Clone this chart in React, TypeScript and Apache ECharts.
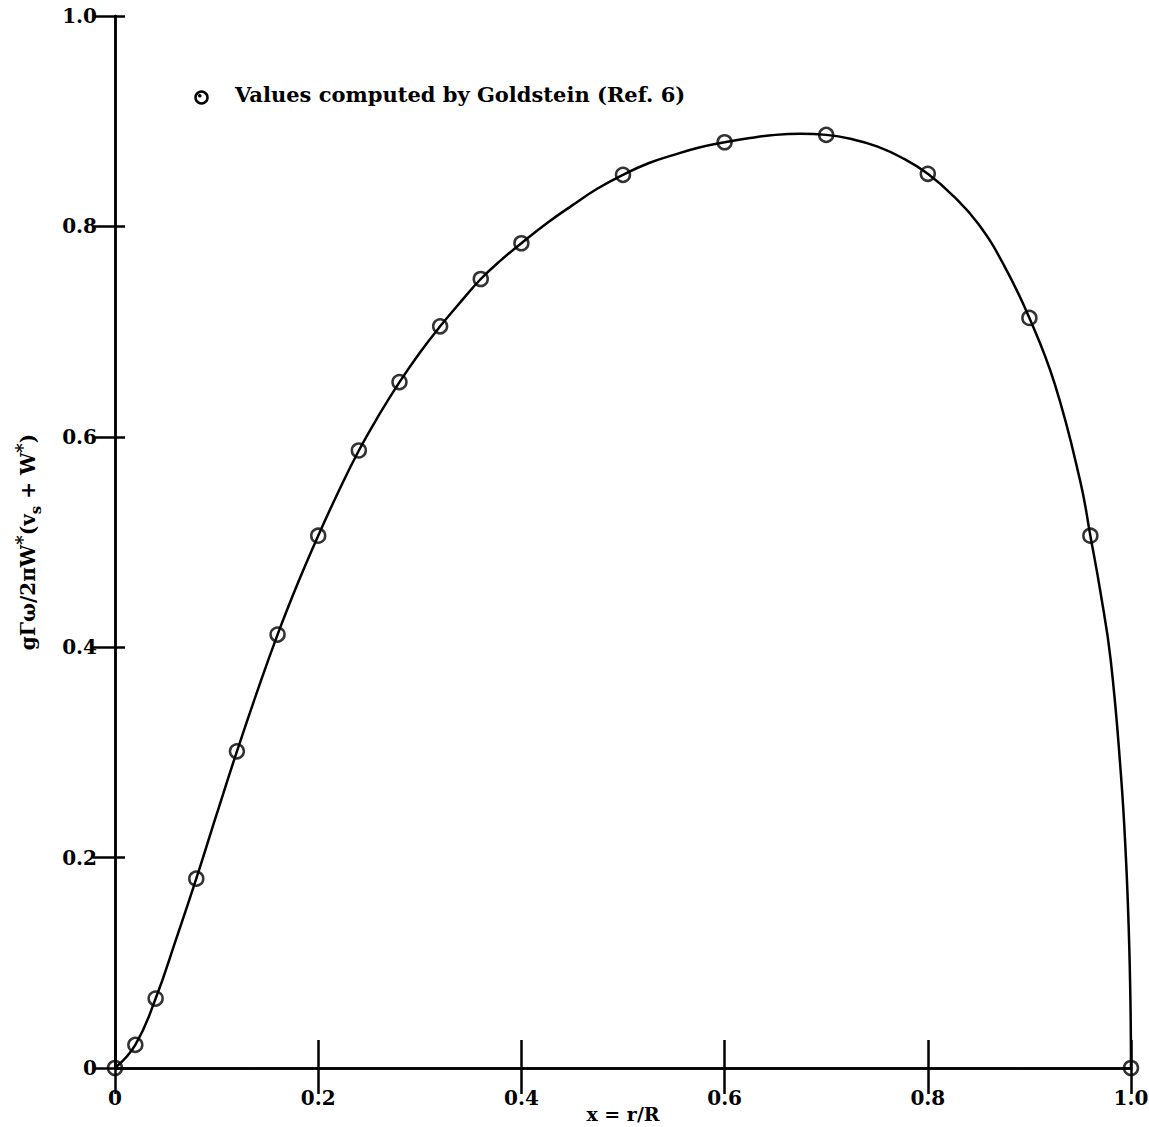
import React, { useEffect, useRef } from "react";
import * as echarts from "echarts";

// Goldstein computed values (scatter)
const pointX = [0, 0.02, 0.04, 0.08, 0.12, 0.16, 0.2, 0.24, 0.28, 0.32, 0.36, 0.4, 0.5, 0.6, 0.7, 0.8, 0.9, 0.96, 1.0];
const pointY = [0, 0.022, 0.066, 0.18, 0.301, 0.412, 0.506, 0.587, 0.652, 0.705, 0.75, 0.784, 0.849, 0.88, 0.887, 0.85, 0.713, 0.506, 0];

// Faired curve
const curveX = [
  0, 0.02, 0.04, 0.06, 0.08, 0.1, 0.12, 0.14, 0.16, 0.18, 0.2, 0.22, 0.24, 0.26, 0.28, 0.3, 0.32, 0.34, 0.36, 0.38, 0.4,
  0.425, 0.45, 0.475, 0.5, 0.525, 0.55, 0.575, 0.6, 0.625, 0.65, 0.675, 0.7, 0.725, 0.75, 0.775, 0.8, 0.825, 0.85, 0.875,
  0.9, 0.925, 0.95, 0.96, 0.97, 0.98, 0.99, 0.995, 0.998, 0.9995, 1.0,
];
const curveY = [
  0, 0.022, 0.066, 0.122, 0.18, 0.241, 0.301, 0.358, 0.412, 0.461, 0.506, 0.548, 0.587, 0.621, 0.652, 0.68, 0.705, 0.728, 0.75, 0.768, 0.784,
  0.803, 0.82, 0.836, 0.849, 0.86, 0.868, 0.875, 0.88, 0.884, 0.887, 0.888, 0.887, 0.883, 0.876, 0.865, 0.85, 0.829, 0.802, 0.763,
  0.713, 0.65, 0.558, 0.506, 0.452, 0.388, 0.28, 0.2, 0.125, 0.06, 0,
];

const tickValues = [0, 0.2, 0.4, 0.6, 0.8, 1.0];
const legendText = "Values computed by Goldstein (Ref. 6)";
const xName = "x = r/R";

const FONT = "DejaVu Serif";

function fmt(v: number) {
  return v === 0 ? "0" : v.toFixed(1);
}

export default function App() {
  const ref = useRef<HTMLDivElement>(null);
  useEffect(() => {
    document.body.style.margin = "0";
    document.body.style.overflow = "hidden";
    if (!ref.current) return;
    const chart = echarts.init(ref.current, undefined, { renderer: "svg" });
    const axisLine = { show: true, lineStyle: { color: "#000", width: 2.5 } };
    const labelStyle = { color: "#000", fontFamily: FONT, fontSize: 20, fontWeight: "bold" as const };
    const base = { type: "value" as const, min: tickValues[0], max: tickValues[tickValues.length - 1], interval: 0.2, splitLine: { show: false } };
    chart.setOption({
      animation: false,
      backgroundColor: "#fff",
      grid: { left: 115, right: 18, top: 16, bottom: 59, containLabel: false, outerBoundsMode: "none" },
      xAxis: [
        {
          ...base,
          position: "bottom",
          axisLine,
          axisTick: { show: true, inside: true, length: 28, lineStyle: { color: "#000", width: 2.5 } },
          axisLabel: { ...labelStyle, margin: 20, formatter: fmt },
          name: xName,
          nameLocation: "middle",
          nameGap: 36,
          nameMoveOverlap: false,
          nameTextStyle: { color: "#000", fontFamily: FONT, fontSize: 19, fontWeight: "bold" },
        },
        {
          ...base,
          position: "top",
          axisLine,
          axisTick: { show: true, inside: true, length: 26, lineStyle: { color: "#000", width: 2.5 } },
          axisLabel: { show: false },
        },
      ],
      yAxis: [
        {
          ...base,
          position: "left",
          axisLine,
          axisTick: { show: true, inside: true, length: 10, lineStyle: { color: "#000", width: 2.5 } },
          axisLabel: { ...labelStyle, margin: 18, formatter: fmt },
          name: "{n|gΓω/2πW}{sup|*}{n|(v}{sub|s}{n| + W}{sup|*}{n|)}",
          nameLocation: "middle",
          nameGap: 72,
          nameMoveOverlap: false,
          nameTextStyle: {
            color: "#000",
            rich: {
              n: { fontFamily: FONT, fontSize: 20, fontWeight: "bold", color: "#000", lineHeight: 30, verticalAlign: "middle" },
              sup: { fontFamily: FONT, fontSize: 18, fontWeight: "bold", color: "#000", lineHeight: 30, verticalAlign: "top" },
              sub: { fontFamily: FONT, fontSize: 15, fontWeight: "bold", color: "#000", lineHeight: 30, verticalAlign: "bottom" },
            },
          },
        },
        {
          ...base,
          position: "right",
          axisLine,
          axisTick: { show: true, inside: true, length: 22, lineStyle: { color: "#000", width: 2.5 } },
          axisLabel: { show: false },
        },
      ],
      graphic: [
        { type: "circle", left: 193, top: 89, shape: { r: 6 }, style: { fill: "none", stroke: "#000", lineWidth: 2.5 } },
        { type: "circle", left: 198, top: 94, shape: { r: 1.8 }, style: { fill: "#000" } },
        {
          type: "text",
          left: 235,
          top: 84,
          style: { text: legendText, fontFamily: FONT, fontSize: 21, fontWeight: "bold", fill: "#000" },
        },
      ],
      series: [
        {
          type: "line",
          data: curveX.map((x, i) => [x, curveY[i]]),
          smooth: 0.45,
          showSymbol: false,
          lineStyle: { color: "#000", width: 2.5 },
          z: 2,
        },
        {
          type: "scatter",
          data: pointX.map((x, i) => [x, pointY[i]]),
          symbol: "circle",
          symbolSize: 14,
          itemStyle: { color: "rgba(0,0,0,0)", borderColor: "#000", borderWidth: 2.5 },
          z: 3,
        },
      ],
    });
    return () => chart.dispose();
  }, []);
  return <div ref={ref} style={{ position: "fixed", left: 0, top: 0, width: 1149, height: 1127 }} />;
}
